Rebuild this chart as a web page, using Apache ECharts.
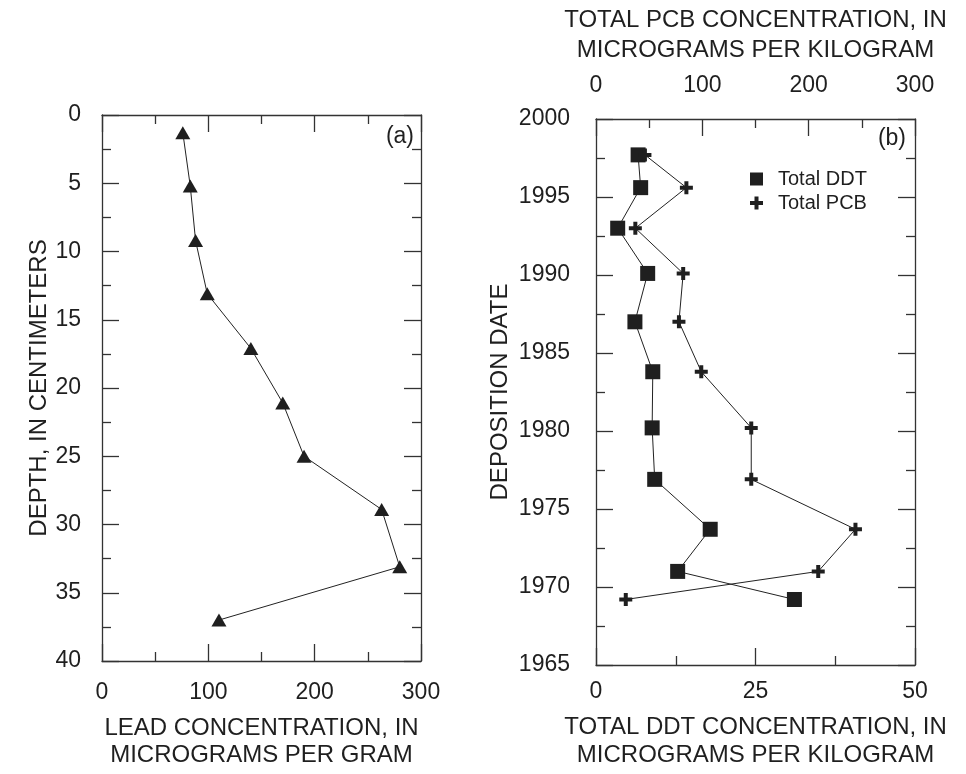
<!DOCTYPE html>
<html>
<head>
<meta charset="utf-8">
<script src="https://cdn.jsdelivr.net/npm/echarts@6/dist/echarts.min.js"></script>
<style>
  html, body { margin: 0; padding: 0; background: #fff; }
  #chart { width: 966px; height: 774px; }
</style>
</head>
<body>
<div id="chart"></div>
<script>
// panel (a): lead vs depth
const depthCm = [1.3, 5.2, 9.2, 13.1, 17.1, 21.1, 25.0, 28.9, 33.1, 37.0]
const leadUgPerG = [76, 83, 88, 99, 140, 170, 190, 263, 280, 110]

// panel (b): DDT / PCB vs deposition date
const depoYear = [1997.7, 1995.6, 1993.0, 1990.1, 1987.0, 1983.8, 1980.2, 1976.9, 1973.7, 1971.0, 1969.2]
const ddtUgPerKg = [6.6, 7.0, 3.4, 8.1, 6.1, 8.9, 8.8, 9.2, 17.9, 12.8, 31.1]
const pcbUgPerKg = [46, 85, 37, 82, 78, 99, 146, 146, 244, 209, 28]

const FONT = 'Liberation Sans, Arial, sans-serif'
const INK = '#1f1f1f'
const plusIcon = 'path://M4.5,0H8.5V4.5H13V8.5H8.5V13H4.5V8.5H0V4.5H4.5Z'

const pairs = (xs, ys) => xs.map((x, i) => [x, ys[i]])

// shared look of every axis: ticks inside, long major + short minor
function frameAxis(extra) {
  return Object.assign({
    type: 'value',
    axisLine: { show: true, onZero: false, lineStyle: { color: '#333', width: 1.3 } },
    axisTick: { show: true, inside: true, length: 17, lineStyle: { color: '#333', width: 1.3 } },
    minorTick: { show: true, splitNumber: 2, length: 9, lineStyle: { color: '#333', width: 1.3 } },
    splitLine: { show: false },
    minorSplitLine: { show: false },
    axisLabel: { show: false },
    nameTextStyle: { color: INK, fontFamily: FONT, fontSize: 24 }
  }, extra)
}
const tickLabel = (margin) => ({
  show: true, margin: margin, color: INK, fontFamily: FONT, fontSize: 23,
  formatter: (v) => String(v)
})

const chart = echarts.init(document.getElementById('chart'), null, { renderer: 'canvas' })

const option = {
  backgroundColor: '#fff',
  animation: false,
  grid: [
    { left: 102, top: 115, width: 319, height: 551 },
    { left: 596, top: 117, width: 319, height: 553 }
  ],
  xAxis: [
    frameAxis({
      gridIndex: 0, position: 'bottom', min: 0, max: 300, interval: 100,
      axisLabel: tickLabel(20),
      name: 'LEAD CONCENTRATION, IN\nMICROGRAMS PER GRAM',
      nameLocation: 'middle', nameGap: 54,
      nameTextStyle: { color: INK, fontFamily: FONT, fontSize: 24, lineHeight: 27 }
    }),
    frameAxis({ gridIndex: 0, position: 'top', min: 0, max: 300, interval: 100 }),
    frameAxis({
      gridIndex: 1, position: 'bottom', min: 0, max: 50, interval: 25,
      axisLabel: tickLabel(15),
      name: 'TOTAL DDT CONCENTRATION, IN\nMICROGRAMS PER KILOGRAM',
      nameLocation: 'middle', nameGap: 48,
      nameTextStyle: { color: INK, fontFamily: FONT, fontSize: 24, lineHeight: 28 }
    }),
    frameAxis({
      gridIndex: 1, position: 'top', min: 0, max: 300, interval: 100,
      axisLabel: tickLabel(22),
      name: 'TOTAL PCB CONCENTRATION, IN\nMICROGRAMS PER KILOGRAM',
      nameLocation: 'middle', nameGap: 54,
      nameTextStyle: { color: INK, fontFamily: FONT, fontSize: 24, lineHeight: 30 }
    })
  ],
  yAxis: [
    frameAxis({
      gridIndex: 0, position: 'left', inverse: true, min: 0, max: 40, interval: 5,
      axisLabel: tickLabel(21),
      name: 'DEPTH, IN CENTIMETERS', nameLocation: 'middle', nameGap: 50
    }),
    frameAxis({ gridIndex: 0, position: 'right', inverse: true, min: 0, max: 40, interval: 5 }),
    frameAxis({
      gridIndex: 1, position: 'left', min: 1965, max: 2000, interval: 5,
      axisLabel: tickLabel(26),
      name: 'DEPOSITION DATE', nameLocation: 'middle', nameGap: 84
    }),
    frameAxis({ gridIndex: 1, position: 'right', min: 1965, max: 2000, interval: 5 })
  ],
  legend: {
    orient: 'vertical',
    left: 745, top: 164,
    itemWidth: 13, itemHeight: 13, itemGap: 4,
    textStyle: { color: INK, fontFamily: FONT, fontSize: 20, padding: [0, 0, 0, 10] },
    data: [
      { name: 'Total DDT', icon: 'rect' },
      { name: 'Total PCB', icon: plusIcon }
    ]
  },
  graphic: [
    { type: 'text', style: { x: 414, y: 137, text: '(a)', textAlign: 'right', textVerticalAlign: 'middle', fill: INK, font: '23px ' + FONT } },
    { type: 'text', style: { x: 906, y: 139, text: '(b)', textAlign: 'right', textVerticalAlign: 'middle', fill: INK, font: '23px ' + FONT } }
  ],
  series: [
    {
      name: 'Lead', type: 'line', xAxisIndex: 0, yAxisIndex: 0,
      data: pairs(leadUgPerG, depthCm),
      symbol: 'triangle', symbolSize: [15, 13],
      itemStyle: { color: INK },
      lineStyle: { color: '#222', width: 1 }
    },
    {
      name: 'Total DDT', type: 'line', xAxisIndex: 2, yAxisIndex: 2,
      data: pairs(ddtUgPerKg, depoYear),
      symbol: 'rect', symbolSize: 15,
      itemStyle: { color: INK },
      lineStyle: { color: '#222', width: 1 }
    },
    {
      name: 'Total PCB', type: 'line', xAxisIndex: 3, yAxisIndex: 2,
      data: pairs(pcbUgPerKg, depoYear),
      symbol: plusIcon, symbolSize: 13,
      itemStyle: { color: INK },
      lineStyle: { color: '#222', width: 1 }
    }
  ]
}

chart.setOption(option)
</script>
</body>
</html>
